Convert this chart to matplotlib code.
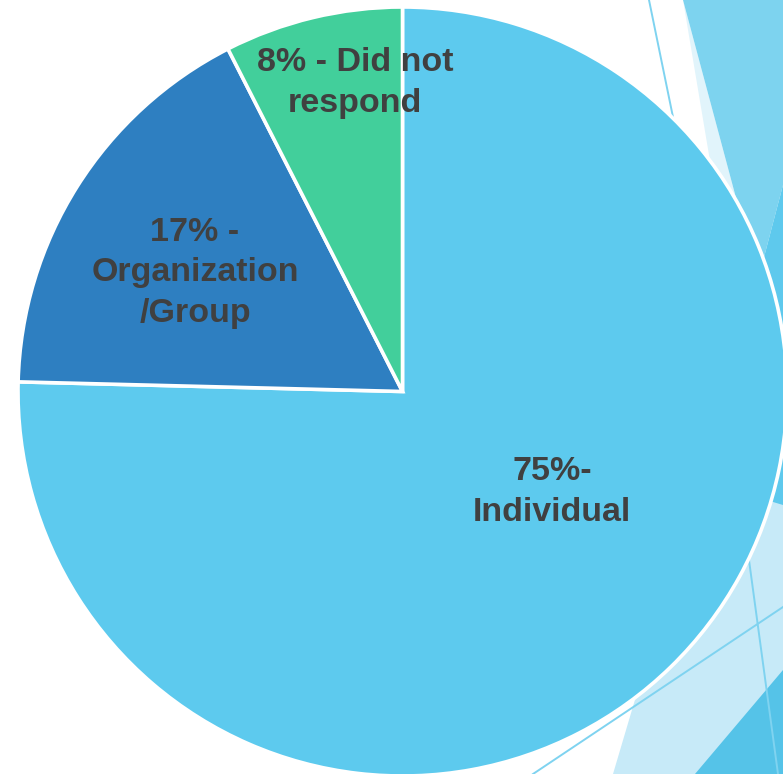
import matplotlib
matplotlib.use('Agg')
import matplotlib.pyplot as plt
from matplotlib.patches import Polygon

# pie data
categories = ['Individual', 'Organization/Group', 'Did not respond']
shares = [75.4, 17.1, 7.5]
labels = ['75%-\nIndividual', '17% -\nOrganization\n/Group', '8% - Did not\nrespond']
colors = ['#5DCAEE', '#2E7FC1', '#42CF9B']

W, H = 783, 774

fig = plt.figure(figsize=(W / 100, H / 100), dpi=100)
ax = fig.add_axes([0, 0, 1, 1])
ax.set_xlim(0, W)
ax.set_ylim(0, H)
ax.axis('off')


def py(y):
    # picture rows run downwards
    return H - y


# decorative background shapes on the right side
shapes = [
    ([(683, 0), (735, 310), (766, 310)], '#E1F4FB'),
    ([(683, 0), (783, 0), (783, 185), (758, 280)], '#7DD3EF'),
    ([(758, 280), (783, 185), (783, 515), (720, 500)], '#5EC9ED'),
    ([(613, 774), (700, 480), (783, 505), (783, 774)], '#C7EAF8'),
    ([(695, 774), (783, 670), (783, 774)], '#55C3E8'),
]
for pts, c in shapes:
    ax.add_patch(Polygon([(x, py(y)) for x, y in pts], closed=True,
                         facecolor=c, edgecolor='none', zorder=0))

for (x0, y0), (x1, y1) in [((649, 0), (690, 200)), ((533, 774), (783, 607)),
                           ((730, 420), (778, 774))]:
    ax.plot([x0, x1], [py(y0), py(y1)], color='#7FD3F0', lw=1.4, zorder=1)

cx, cy, r = 402.5, py(391.5), 384.5
wedges, _ = ax.pie(shares, colors=colors, startangle=90, counterclock=False,
                   center=(cx, cy), radius=r, frame=True,
                   wedgeprops=dict(edgecolor='white', linewidth=2.6))
for w in wedges:
    w.set_zorder(2)
ax.set_xlim(0, W)
ax.set_ylim(0, H)
ax.set_aspect('auto')
ax.axis('off')

label_pos = [(552, 492), (195, 273), (355, 83)]
for txt, (x, y) in zip(labels, label_pos):
    ax.text(x, py(y), txt, ha='center', va='center', fontsize=24.5,
            fontweight='bold', color='#404040', family='Liberation Sans',
            linespacing=1.39, zorder=3)

fig.savefig('out.png', dpi=100)
